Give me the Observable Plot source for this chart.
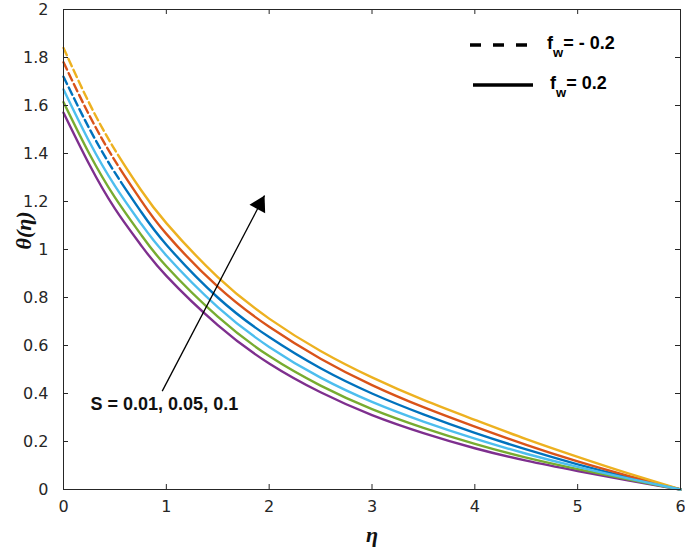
<!DOCTYPE html>
<html><head><meta charset="utf-8">
<script src="https://cdn.jsdelivr.net/npm/d3@7"></script>
<script src="https://cdn.jsdelivr.net/npm/@observablehq/plot@0.6"></script>
<style>
body{margin:0;background:#fff;}
#wrap{position:relative;width:685px;height:550px;overflow:hidden;}
#legend{position:absolute;left:0;top:0;pointer-events:none;}
</style></head><body><div id="wrap"></div>
<script>
// η sample positions
const eta = [0, 0.25, 0.5, 0.75, 1, 1.5, 2, 2.5, 3, 3.5, 4, 4.5, 5, 5.5, 6];

// f_w = -0.2 (dashed near the wall)
const fwNeg_S001 = [1.72, 1.505, 1.32, 1.16, 1.02, 0.80, 0.635, 0.505, 0.40, 0.313, 0.236, 0.167, 0.105, 0.05, 0];
const fwNeg_S005 = [1.78, 1.56, 1.37, 1.207, 1.065, 0.845, 0.678, 0.545, 0.435, 0.343, 0.262, 0.186, 0.117, 0.056, 0];
const fwNeg_S01  = [1.84, 1.61, 1.415, 1.25, 1.11, 0.885, 0.712, 0.577, 0.467, 0.373, 0.29, 0.21, 0.136, 0.066, 0];

// f_w = 0.2 (solid)
const fwPos_S001 = [1.57, 1.355, 1.17, 1.02, 0.89, 0.685, 0.525, 0.405, 0.31, 0.235, 0.172, 0.12, 0.077, 0.037, 0];
const fwPos_S005 = [1.614, 1.40, 1.217, 1.064, 0.93, 0.72, 0.556, 0.433, 0.335, 0.257, 0.19, 0.133, 0.085, 0.041, 0];
const fwPos_S01  = [1.667, 1.45, 1.265, 1.11, 0.975, 0.76, 0.594, 0.466, 0.365, 0.283, 0.212, 0.149, 0.094, 0.045, 0];

const seriesNames  = ["fwPos_S001", "fwPos_S005", "fwPos_S01", "fwNeg_S001", "fwNeg_S005", "fwNeg_S01"];
const seriesValues = [fwPos_S001, fwPos_S005, fwPos_S01, fwNeg_S001, fwNeg_S005, fwNeg_S01];
const seriesFw     = [0.2, 0.2, 0.2, -0.2, -0.2, -0.2];
const seriesColors = ["#7E2F8E", "#77AC30", "#4DBEEE", "#0072BD", "#D95319", "#EDB120"];

const xTicks = [0, 1, 2, 3, 4, 5, 6];
const yTicks = [0, 0.2, 0.4, 0.6, 0.8, 1, 1.2, 1.4, 1.6, 1.8, 2];

// arrow annotation (data coords)
const arrowFrom = [0.96, 0.41];
const arrowTo = [1.955, 1.225];
const annText = "S = 0.01, 0.05, 0.1";
const annPos = [0.263, 0.356];

const rows = [];
seriesNames.forEach((name, k) => {
  seriesValues[k].forEach((v, i) => rows.push({eta: eta[i], theta: v, key: name, fw: seriesFw[k], color: seriesColors[k]}));
});
const solidRows = rows.filter(d => d.fw > 0);
const dashRows = rows.filter(d => d.fw < 0);

const W = 685, H = 550;
const mL = 63, mR = 5, mT = 9, mB = 61;
const pw = W - mL - mR, ph = H - mT - mB;
const tick = 5;

const ax = "#262626";
const curve = "natural";
// dashes near the wall, then continuous (as rendered in the source figure)
const dashPattern = Array(10).fill("8,4").join(",") + ",4000,1";

const plot = Plot.plot({
  width: W, height: H,
  marginLeft: mL, marginRight: mR, marginTop: mT, marginBottom: mB,
  x: {domain: [0, 6], axis: null},
  y: {domain: [0, 2], axis: null},
  style: {fontFamily: "'DejaVu Sans', sans-serif", fontSize: "16px", background: "#fff", overflow: "visible"},
  marks: [
    Plot.line(dashRows, {x: "eta", y: "theta", z: "key", stroke: "color", strokeWidth: 2.4, strokeDasharray: dashPattern, curve}),
    Plot.line(solidRows, {x: "eta", y: "theta", z: "key", stroke: "color", strokeWidth: 2.4, curve}),
    Plot.frame({stroke: ax, strokeWidth: 1}),
    Plot.tickX(xTicks, {x: d => d, stroke: ax, insetTop: ph - tick}),
    Plot.tickX(xTicks, {x: d => d, stroke: ax, insetBottom: ph - tick}),
    Plot.tickY(yTicks, {y: d => d, stroke: ax, insetRight: pw - tick}),
    Plot.tickY(yTicks, {y: d => d, stroke: ax, insetLeft: pw - tick}),
    Plot.text(xTicks, {x: d => d, frameAnchor: "bottom", lineAnchor: "top", dy: 11, text: d => String(d), fill: ax, fontSize: 16}),
    Plot.text(yTicks, {y: d => d, frameAnchor: "left", textAnchor: "end", dx: -15, text: d => String(d), fill: ax, fontSize: 16}),
    Plot.text(["θ(η)"], {frameAnchor: "left", dx: -40, rotate: -90, text: d => d, fontFamily: "'Liberation Serif', serif", fontWeight: "bold", fontStyle: "italic", fontSize: 22, fill: "#111"}),
    Plot.text(["η"], {frameAnchor: "bottom", dy: 52, text: d => d, fontFamily: "'Liberation Serif', serif", fontWeight: "bold", fontStyle: "italic", fontSize: 22, fill: "#111"}),
    Plot.link([{a: arrowFrom, b: arrowTo}], {x1: d => d.a[0], y1: d => d.a[1], x2: d => d.b[0], y2: d => d.b[1], stroke: "#000", strokeWidth: 1.3}),
    Plot.dot([arrowTo], {x: d => d[0], y: d => d[1], symbol: "triangle", r: 6.6, fill: "#000", stroke: "none", rotate: 28, dx: -4.8, dy: 9}),
    Plot.text([annText], {x: annPos[0], y: annPos[1], text: d => d, textAnchor: "start", fontFamily: "'Liberation Sans', Arial, sans-serif", fontWeight: "bold", fontSize: 18, fill: "#111"})
  ]
});

const wrap = document.getElementById("wrap");
wrap.appendChild(plot);

// Legend overlay
const ns = "http://www.w3.org/2000/svg";
const lg = d3.select(wrap).append("svg").attr("id", "legend").attr("width", W).attr("height", H)
  .attr("xmlns", ns);
const legendItems = [
  {label: "= - 0.2", dash: "11,12", y: 45, x1: 470, x2: 527, tx: 547},
  {label: "= 0.2", dash: null, y: 85, x1: 473, x2: 533, tx: 550}
];
legendItems.forEach(it => {
  const l = lg.append("line").attr("x1", it.x1).attr("x2", it.x2).attr("y1", it.y).attr("y2", it.y)
    .attr("stroke", "#000").attr("stroke-width", 3.6);
  if (it.dash) l.attr("stroke-dasharray", it.dash);
  const t = lg.append("text").attr("x", it.tx).attr("y", it.y + 4)
    .attr("font-family", "'Liberation Sans', Arial, sans-serif").attr("font-weight", "bold").attr("font-size", 18).attr("fill", "#000");
  t.append("tspan").text("f");
  t.append("tspan").attr("dy", 8).attr("font-size", 13).text("w");
  t.append("tspan").attr("dy", -8).text(it.label);
});
</script></body></html>
